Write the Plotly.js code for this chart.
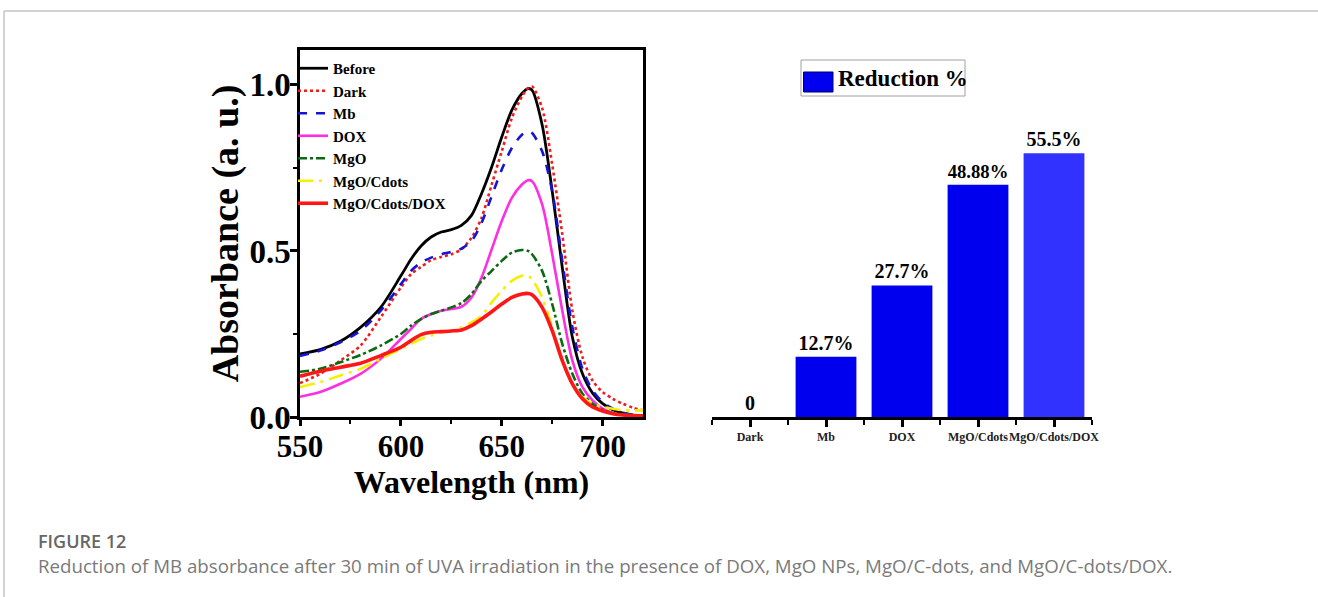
<!DOCTYPE html>
<html>
<head>
<meta charset="utf-8">
<script src="https://cdn.plot.ly/plotly-3.0.1.min.js"></script>
<style>
  html, body { margin: 0; padding: 0; background: #fff; }
  #chart { width: 1318px; height: 597px; }
</style>
</head>
<body>
<div id="chart"></div>
<script>
// ---------- data: absorbance spectra ----------
const wavelength = [550,560,570,580,590,600,605,610,615,620,625,630,635,640,645,650,655,660,663,665,670,675,680,685,690,695,700,705,710,715,720];
const before      = [0.190,0.203,0.228,0.270,0.330,0.425,0.475,0.515,0.542,0.557,0.564,0.577,0.607,0.673,0.753,0.843,0.924,0.974,0.989,0.984,0.880,0.680,0.450,0.240,0.130,0.072,0.040,0.022,0.012,0.006,0.003];
const dark        = [0.102,0.130,0.170,0.215,0.300,0.390,0.430,0.452,0.472,0.482,0.490,0.505,0.540,0.600,0.700,0.800,0.900,0.965,0.990,0.995,0.930,0.760,0.550,0.320,0.180,0.110,0.075,0.055,0.040,0.028,0.020];
const mb          = [0.184,0.200,0.225,0.260,0.320,0.400,0.440,0.465,0.480,0.490,0.497,0.507,0.530,0.585,0.665,0.745,0.810,0.850,0.860,0.855,0.800,0.680,0.470,0.270,0.145,0.080,0.045,0.025,0.013,0.007,0.004];
const dox         = [0.061,0.075,0.100,0.130,0.175,0.235,0.265,0.295,0.310,0.320,0.325,0.332,0.360,0.420,0.505,0.590,0.660,0.700,0.713,0.710,0.640,0.490,0.320,0.170,0.090,0.050,0.025,0.012,0.006,0.003,0.002];
const mgo         = [0.136,0.145,0.165,0.187,0.215,0.250,0.275,0.295,0.310,0.320,0.330,0.343,0.370,0.410,0.440,0.470,0.495,0.503,0.500,0.490,0.440,0.340,0.220,0.130,0.070,0.040,0.022,0.012,0.008,0.006,0.005];
const mgoCdots    = [0.090,0.105,0.125,0.145,0.175,0.205,0.220,0.235,0.245,0.255,0.260,0.270,0.285,0.305,0.345,0.380,0.410,0.425,0.425,0.415,0.360,0.270,0.170,0.100,0.060,0.040,0.030,0.025,0.020,0.020,0.020];
const mgoCdotsDox = [0.123,0.138,0.150,0.162,0.185,0.210,0.230,0.248,0.255,0.257,0.259,0.262,0.275,0.295,0.317,0.340,0.360,0.370,0.372,0.368,0.330,0.260,0.170,0.100,0.055,0.030,0.018,0.010,0.006,0.004,0.003];
const seriesNames = ["Before","Dark","Mb","DOX","MgO","MgO/Cdots","MgO/Cdots/DOX"];

// ---------- data: reduction bars ----------
const barCategories = ["Dark","Mb","DOX","MgO/Cdots","MgO/Cdots/DOX"];
const reductionPct  = [0, 12.7, 27.7, 48.88, 55.5];
const reductionText = ["0","12.7%","27.7%","48.88%","55.5%"];

const SERIF = "Liberation Serif, Times New Roman, serif";
const W = 1318, H = 597;
const px = v => v / W;
const py = v => 1 - v / H;

const styles = [
  {color:"#000000", dash:"solid",       width:2.8},
  {color:"#ee1c1c", dash:"dot",         width:2.6},
  {color:"#1414d2", dash:"dash",        width:2.6},
  {color:"#ff2ee0", dash:"solid",       width:2.6},
  {color:"#0a6a12", dash:"dashdot",     width:2.6},
  {color:"#f4f000", dash:"longdashdot", width:2.6},
  {color:"#ff1616", dash:"solid",       width:3.6}
];
const spectra = [before, dark, mb, dox, mgo, mgoCdots, mgoCdotsDox];

const traces = spectra.map((ys, i) => ({
  type: "scatter", mode: "lines",
  x: wavelength, y: ys,
  name: seriesNames[i], legendgroup: "g" + i,
  line: {color: styles[i].color, dash: styles[i].dash, width: styles[i].width, shape: "spline", smoothing: 0.8},
  xaxis: "x", yaxis: "y",
  hoverinfo: "x+y+name"
}));

const barIdx = barCategories.map((_, i) => i);
traces.push({
  type: "bar",
  x: barIdx, y: reductionPct,
  name: "Reduction %",
  showlegend: false,
  width: 0.8,
  marker: {color: ["#0000ee","#0000ee","#0000ee","#0000ee","#3232ff"], line: {width: 0}},
  text: reductionText,
  textposition: "outside",
  textfont: {family: SERIF, size: 20, color: "#000", weight: "bold"},
  cliponaxis: false,
  xaxis: "x2", yaxis: "y2",
  hovertemplate: "%{customdata}: %{y}%<extra></extra>",
  customdata: barCategories
});

const layout = {
  width: W, height: H,
  margin: {l: 0, r: 0, t: 0, b: 0},
  paper_bgcolor: "#ffffff",
  plot_bgcolor: "rgba(0,0,0,0)",
  font: {family: SERIF, color: "#000"},
  showlegend: true,
  legend: {
    x: px(293), y: py(52), xanchor: "left", yanchor: "top",
    bgcolor: "rgba(0,0,0,0)", borderwidth: 0,
    font: {family: SERIF, size: 15, color: "#000", weight: "bold"},
    tracegroupgap: 0, itemwidth: 30
  },
  xaxis: {
    domain: [px(300), px(643)],
    range: [550, 720],
    tickmode: "linear", tick0: 550, dtick: 50,
    ticks: "outside", ticklen: 6, tickwidth: 2.5, tickcolor: "#000",
    minor: {dtick: 25, ticks: "outside", ticklen: 4, tickwidth: 2, tickcolor: "#000"},
    showline: true, linewidth: 2.5, linecolor: "#000", mirror: true,
    showgrid: false, zeroline: false,
    tickfont: {family: SERIF, size: 31, color: "#000", weight: "bold"},
    ticklabelstandoff: -6,
    title: {text: "Wavelength (nm)", font: {family: SERIF, size: 32, color: "#000", weight: "bold"}, standoff: 0},
    anchor: "y", automargin: false
  },
  yaxis: {
    domain: [py(417), py(50)],
    range: [0, 1.105],
    tickmode: "linear", tick0: 0, dtick: 0.5, tickformat: ".1f",
    ticks: "outside", ticklen: 7, tickwidth: 2.5, tickcolor: "#000",
    minor: {dtick: 0.25, ticks: "outside", ticklen: 4, tickwidth: 2, tickcolor: "#000"},
    showline: true, linewidth: 2.5, linecolor: "#000", mirror: true,
    showgrid: false, zeroline: false,
    tickfont: {family: SERIF, size: 33, color: "#000", weight: "bold"},
    ticklabelstandoff: -7,
    title: {text: "Absorbance (a. u.)", font: {family: SERIF, size: 38, color: "#000", weight: "bold"}, standoff: 0},
    anchor: "x", automargin: false
  },
  xaxis2: {
    domain: [px(712), px(1092)],
    range: [-0.5, 4.5],
    tickmode: "array", tickvals: barIdx, ticktext: barCategories, tickangle: 0,
    ticks: "outside", ticklen: 7, tickwidth: 2.5, tickcolor: "#000",
    minor: {tickmode: "array", tickvals: barIdx.concat([barIdx.length]).map(i => i - 0.5), ticks: "outside", ticklen: 5, tickwidth: 2, tickcolor: "#000"},
    showline: true, linewidth: 3, linecolor: "#000",
    showgrid: false, zeroline: false,
    tickfont: {family: SERIF, size: 12, color: "#222", weight: "bold"},
    anchor: "y2", automargin: false
  },
  yaxis2: {
    domain: [py(417), py(140)],
    range: [0, 58.3],
    visible: false, showgrid: false, zeroline: false,
    anchor: "x2"
  },
  shapes: [
    // page frame
    {type: "line", xref: "paper", yref: "paper", x0: px(4), x1: 1, y0: py(11), y1: py(11), line: {color: "#c4c4c4", width: 1.5}},
    {type: "line", xref: "paper", yref: "paper", x0: px(4), x1: px(4), y0: py(11), y1: 0, line: {color: "#c4c4c4", width: 1.5}},
    // bar legend box and swatch
    {type: "rect", xref: "paper", yref: "paper", x0: px(801), x1: px(965), y0: py(96), y1: py(60), line: {color: "#a0a0a0", width: 1}, fillcolor: "#ffffff"},
    {type: "rect", xref: "paper", yref: "paper", x0: px(803.5), x1: px(833), y0: py(92), y1: py(72), line: {color: "#000060", width: 1}, fillcolor: "#0000ee"}
  ],
  annotations: [
    {xref: "paper", yref: "paper", x: px(836), y: py(78), xanchor: "left", yanchor: "middle", showarrow: false,
     text: "Reduction %", font: {family: SERIF, size: 23, color: "#000", weight: "bold"}},
    {xref: "paper", yref: "paper", x: px(36), y: py(541), xanchor: "left", yanchor: "middle", showarrow: false,
     text: "FIGURE 12", font: {family: "Open Sans, sans-serif", size: 18, color: "#666666", weight: 600}},
    {xref: "paper", yref: "paper", x: px(36), y: py(565), xanchor: "left", yanchor: "middle", showarrow: false,
     text: "Reduction of MB absorbance after 30 min of UVA irradiation in the presence of DOX, MgO NPs, MgO/C-dots, and MgO/C-dots/DOX.",
     font: {family: "Open Sans, sans-serif", size: 18.7, color: "#7a7a7a"}}
  ]
};

Plotly.newPlot("chart", traces, layout, {displayModeBar: false, responsive: false});
</script>
</body>
</html>
